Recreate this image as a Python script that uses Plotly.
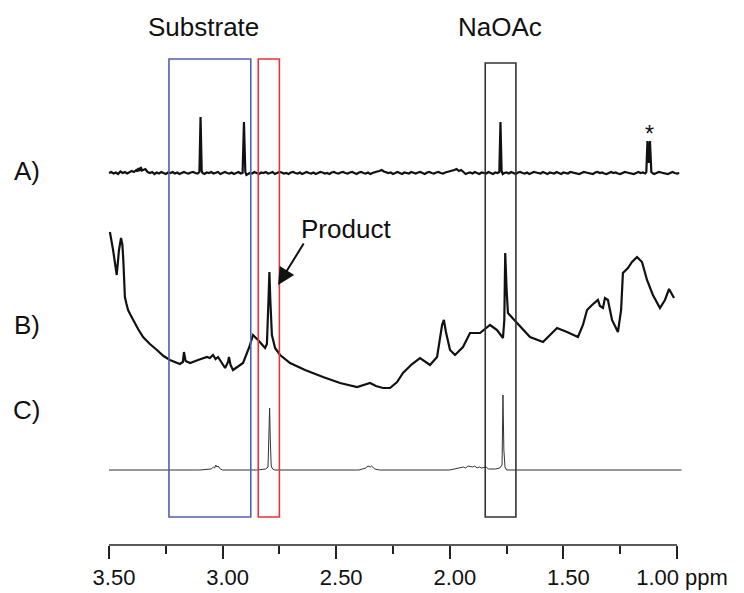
import plotly.graph_objects as go

# ---------------- data (ppm, intensity above own baseline) ----------------
SPEC_A = [
    (3.500, 0), (3.49, 1), (3.48, -0.5), (3.47, 0.5), (3.46, -1), (3.45, 1.5), (3.44, 0),
    (3.43, 1), (3.42, -0.5), (3.41, 1), (3.40, 2), (3.39, 1), (3.38, 3), (3.375, 1.5),
    (3.37, 5), (3.365, 2), (3.36, 6), (3.355, 2.5), (3.35, 3), (3.34, 4), (3.33, 1),
    (3.32, 0), (3.31, 1), (3.30, -1), (3.29, 0.5), (3.28, -0.5), (3.27, 1), (3.26, 0),
    (3.25, -1), (3.24, 0.5), (3.23, 0), (3.22, 1), (3.21, -0.5), (3.20, 0.5), (3.19, -1),
    (3.18, 0), (3.17, 1), (3.16, 0), (3.15, -0.5), (3.14, 0.5), (3.13, 1), (3.12, 0),
    (3.11, -0.5), (3.102, 1), (3.097, 56), (3.092, 2), (3.088, 0), (3.08, -1), (3.07, 0.5),
    (3.06, 0), (3.05, 1), (3.04, -0.5), (3.03, 0), (3.02, 1), (3.01, -1), (3.00, 0),
    (2.99, 1), (2.98, 0), (2.97, -0.5), (2.96, 0.5), (2.95, -1), (2.94, 0), (2.93, 1),
    (2.92, -0.5), (2.912, 0), (2.906, 51), (2.900, 1), (2.895, -2), (2.89, -1), (2.88, 0),
    (2.87, -0.5), (2.86, 1), (2.85, 0), (2.84, -1), (2.83, 0.5), (2.82, 0), (2.81, 1),
    (2.80, -0.5), (2.79, 0), (2.78, 1), (2.77, -1), (2.76, 0), (2.75, 1), (2.74, 0.5),
    (2.73, -0.5), (2.72, 0), (2.71, -1), (2.70, 0.5), (2.69, 1), (2.68, 0), (2.67, -0.5),
    (2.66, 0.5), (2.65, -1), (2.64, 0), (2.63, 1), (2.62, 0), (2.61, -0.5), (2.60, 0.5),
    (2.59, -1), (2.58, 0), (2.57, 1), (2.56, 0.5), (2.55, -0.5), (2.54, 0), (2.53, -1),
    (2.52, 0.5), (2.51, 1), (2.50, 0), (2.49, -0.5), (2.48, 0.5), (2.47, 1), (2.46, 0),
    (2.45, -0.5), (2.44, 0.5), (2.43, 1), (2.42, 0), (2.41, -1), (2.40, 0.5), (2.39, 1),
    (2.38, 0), (2.37, -0.5), (2.36, 0.5), (2.35, -1), (2.34, 0), (2.33, 1), (2.32, 1.5),
    (2.31, 2), (2.30, 3), (2.29, 1.5), (2.28, 1), (2.27, 0), (2.26, 0.5), (2.25, -1),
    (2.24, 0), (2.23, 1), (2.22, 0), (2.21, -1), (2.20, 0.5), (2.19, 0), (2.18, -0.5),
    (2.17, 1), (2.16, 0), (2.15, -0.5), (2.14, 0.5), (2.13, 1), (2.12, 0), (2.11, -1),
    (2.10, 0.5), (2.09, 1), (2.08, 0), (2.07, -0.5), (2.06, 0.5), (2.05, 1), (2.04, 0),
    (2.03, -0.5), (2.02, 0.5), (2.01, 1), (2.00, 1.5), (1.99, 2), (1.98, 3), (1.97, 4),
    (1.96, 2), (1.95, 3), (1.94, 1), (1.93, -1), (1.92, 0), (1.91, 0.5), (1.90, -0.5),
    (1.89, 1), (1.88, 0), (1.87, -1), (1.86, 0.5), (1.85, 0), (1.84, -0.5), (1.83, 1),
    (1.82, 0), (1.81, -1), (1.80, 0.5), (1.79, 0), (1.782, 1), (1.777, 51), (1.772, 2),
    (1.767, -1), (1.76, 0), (1.75, 0.5), (1.74, -0.5), (1.73, 1), (1.72, 0), (1.71, -1),
    (1.70, 0.5), (1.69, 1), (1.68, 0), (1.67, -0.5), (1.66, 0.5), (1.65, -1), (1.64, 0),
    (1.63, 1), (1.62, 0.5), (1.61, 0), (1.60, -0.5), (1.59, 1), (1.58, 0), (1.57, -1),
    (1.56, 0.5), (1.55, 0), (1.54, -0.5), (1.53, 1), (1.52, 0), (1.51, -1), (1.50, 0.5),
    (1.49, 0), (1.48, -0.5), (1.47, 1), (1.46, 0.5), (1.45, 0), (1.44, -0.5), (1.43, -1),
    (1.42, 0), (1.41, 1), (1.40, 0.5), (1.39, 0), (1.38, -0.5), (1.37, -1), (1.36, 0.5),
    (1.35, 1), (1.34, 0), (1.33, 0.5), (1.32, -0.5), (1.31, -1), (1.30, 0), (1.29, 1),
    (1.28, 0), (1.27, 0.5), (1.26, -0.5), (1.25, -1), (1.24, 0), (1.23, 1), (1.22, 0.5),
    (1.21, 0), (1.20, -0.5), (1.19, -1), (1.18, 0), (1.17, 1), (1.16, 0), (1.15, 0.5),
    (1.14, -0.5), (1.135, 1), (1.130, 32), (1.1245, 10), (1.119, 32), (1.113, 1),
    (1.105, -0.5), (1.10, -1), (1.09, 0), (1.08, 1), (1.07, 0.5), (1.06, 0), (1.05, -0.5),
    (1.04, -1), (1.03, 0), (1.02, 1), (1.01, 0), (1.00, -0.5), (0.99, 0),
]

SPEC_B = [
    (3.496, 158), (3.482, 140), (3.466, 115), (3.456, 140), (3.447, 152), (3.441, 145),
    (3.437, 130), (3.430, 93), (3.423, 86), (3.416, 80), (3.405, 75), (3.394, 70),
    (3.372, 61), (3.350, 53), (3.320, 46), (3.289, 40), (3.260, 34), (3.232, 30),
    (3.188, 26), (3.175, 28), (3.170, 38), (3.163, 29), (3.143, 27),
    (3.108, 30), (3.069, 33), (3.056, 32), (3.042, 35), (3.031, 31), (3.020, 33),
    (2.989, 22), (2.976, 28), (2.972, 33), (2.965, 25), (2.954, 20), (2.910, 27),
    (2.884, 42), (2.866, 55), (2.853, 52), (2.844, 50), (2.813, 42), (2.805, 46),
    (2.798, 90), (2.794, 118), (2.790, 90), (2.783, 55), (2.769, 42), (2.747, 35),
    (2.703, 27), (2.637, 20), (2.558, 13), (2.483, 7), (2.408, 3), (2.373, 5),
    (2.351, 7), (2.325, 4), (2.294, 2), (2.263, 2), (2.232, 8), (2.206, 17),
    (2.166, 26), (2.131, 32), (2.105, 28), (2.087, 25), (2.056, 33), (2.043, 53),
    (2.034, 65), (2.026, 70), (2.017, 58), (1.999, 40), (1.977, 35), (1.942, 43),
    (1.911, 57), (1.867, 57), (1.845, 61), (1.823, 65), (1.792, 60), (1.766, 52),
    (1.760, 70), (1.756, 137), (1.750, 100), (1.744, 77), (1.704, 67), (1.647, 53),
    (1.590, 48), (1.559, 55), (1.528, 62), (1.484, 58), (1.436, 53), (1.414, 65),
    (1.396, 80), (1.374, 85), (1.348, 90), (1.339, 84), (1.326, 82), (1.317, 92),
    (1.304, 90), (1.295, 80), (1.286, 70), (1.260, 58), (1.246, 80), (1.238, 117),
    (1.216, 122), (1.198, 128), (1.176, 133), (1.154, 128), (1.132, 110), (1.106, 95),
    (1.075, 82), (1.053, 90), (1.035, 101), (1.013, 92),
]

SPEC_C = [
    (3.50, 0), (3.10, 0), (3.05, 1), (3.04, 3), (3.035, 2), (3.03, 5), (3.025, 3),
    (3.02, 4), (3.01, 1), (3.00, 0), (2.85, 0), (2.81, 1), (2.800, 3), (2.796, 30),
    (2.793, 62), (2.790, 30), (2.786, 4), (2.78, 1), (2.77, 0), (2.40, 0), (2.37, 2),
    (2.36, 4), (2.35, 3), (2.345, 4), (2.33, 1), (2.31, 0), (2.00, 0), (1.96, 2),
    (1.94, 3), (1.93, 2), (1.92, 4), (1.90, 3), (1.89, 4), (1.88, 2), (1.87, 3),
    (1.86, 2), (1.84, 3), (1.83, 1), (1.80, 1), (1.78, 2), (1.770, 5), (1.766, 75),
    (1.762, 20), (1.757, 3), (1.75, 0), (0.98, 0),
]

TRACE_LABELS = ["A)", "B)", "C)"]
REGIONS = {"Substrate": (3.236, 2.876), "Product": (2.843, 2.750), "NaOAc": (1.844, 1.709)}
TICK_VALS = [3.50, 3.00, 2.50, 2.00, 1.50, 1.00]
TICK_TEXT = ["3.50", "3.00", "2.50", "2.00", "1.50", "1.00 ppm"]
MINOR_VALS = [3.25, 2.75, 2.25, 1.75, 1.25]

# ---------------- layout constants ----------------
# page body has an 8px margin, so the figure is 736x585 placed at (8, 8)
W, H = 736, 585
OFFSETS = {"A": 420, "B": 203, "C": 123}   # stacking baselines
FONT = "Liberation Sans, Arial, sans-serif"

fig = go.Figure()

def add_spec(spec, offset, width, color):
    fig.add_trace(go.Scatter(
        x=[p for p, _ in spec], y=[v + offset for _, v in spec],
        mode="lines", line=dict(color=color, width=width), hoverinfo="skip",
        showlegend=False))

add_spec(SPEC_A, OFFSETS["A"], 2.2, "#111111")
add_spec(SPEC_B, OFFSETS["B"], 2.2, "#111111")
add_spec(SPEC_C, OFFSETS["C"], 1.0, "#333333")

box_top = {"Substrate": 534, "Product": 534, "NaOAc": 530}
box_bot = 76
box_col = {"Substrate": "#5060b0", "Product": "#e8323c", "NaOAc": "#333333"}
for name, (x0, x1) in REGIONS.items():
    fig.add_shape(type="rect", xref="x", yref="y", x0=x0, x1=x1, y0=box_bot,
                  y1=box_top[name], line=dict(color=box_col[name], width=1.6),
                  fillcolor="rgba(0,0,0,0)")

# axis line spanning 3.50 .. 1.00 only
fig.add_shape(type="line", xref="x", yref="y", x0=TICK_VALS[0], x1=TICK_VALS[-1],
              y0=48, y1=48, line=dict(color="#222222", width=1.5))

ann_font = dict(family=FONT, size=26, color="#111111")
fig.add_annotation(x=3.086, y=566, xref="x", yref="y", text="Substrate",
                   showarrow=False, font=ann_font)
fig.add_annotation(x=1.779, y=566, xref="x", yref="y", text="NaOAc",
                   showarrow=False, font=ann_font)
fig.add_annotation(x=2.457, y=364, xref="x", yref="y", text="Product",
                   showarrow=False, font=ann_font)
for lab, yy in zip(TRACE_LABELS, [422.5, 268, 183]):
    fig.add_annotation(x=3.861, y=yy, xref="x", yref="y", text=lab,
                       showarrow=False, font=ann_font)
fig.add_annotation(x=1.123, y=459, xref="x", yref="y", text="*",
                   showarrow=False, font=dict(family=FONT, size=23, color="#111111"))
# arrow to product peak
fig.add_annotation(x=2.756, y=308, xref="x", yref="y", ax=2.639, ay=351,
                   axref="x", ayref="y", text="", showarrow=True,
                   arrowhead=2, arrowsize=1.7, arrowwidth=2, arrowcolor="#111111")

fig.update_layout(
    width=W, height=H, margin=dict(l=0, r=0, t=0, b=0),
    paper_bgcolor="white", plot_bgcolor="white",
    xaxis=dict(range=[3.9445, 0.7051], showgrid=False, zeroline=False, showline=False,
               tickmode="array", tickvals=TICK_VALS, ticktext=TICK_TEXT,
               ticks="outside", ticklen=13, tickwidth=1.5, tickcolor="#222222",
               tickfont=dict(family=FONT, size=22, color="#111111"),
               ticklabelshift=-5,
               minor=dict(tickmode="array", tickvals=MINOR_VALS, ticks="outside",
                          ticklen=8, tickwidth=1.5, tickcolor="#222222"),
               anchor="free", position=48 / H),
    yaxis=dict(range=[0, H], visible=False),
)

fig.write_html("out.html")
